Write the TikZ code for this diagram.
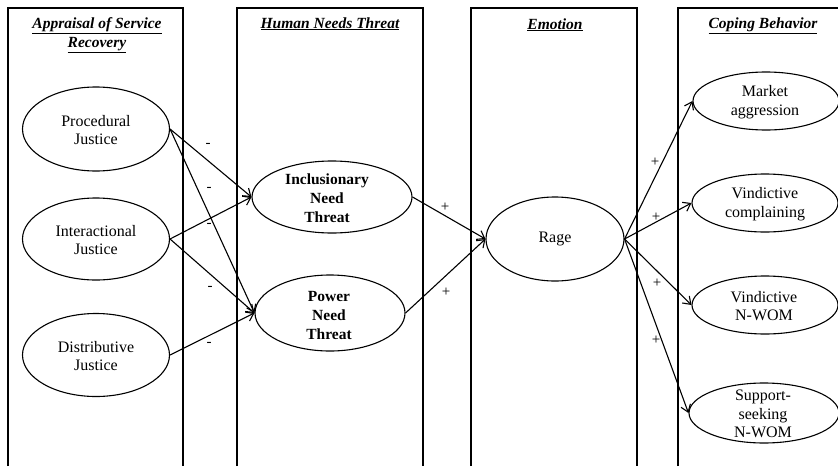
\documentclass[tikz,border=0pt]{standalone}
\usepackage{fontspec}
\setmainfont{Liberation Serif}
\usetikzlibrary{shapes.geometric,arrows.meta}
\begin{document}
\begin{tikzpicture}[x=1pt,y=-1pt,
 frame/.style={line width=1.1pt},
 ell/.style={draw,ellipse,line width=1.1pt,inner sep=0pt},
 txt/.style={align=center,font=\fontsize{16}{18.5}\selectfont,inner sep=0pt},
 btxt/.style={align=center,font=\bfseries\fontsize{15.5}{19}\selectfont,inner sep=0pt},
 title/.style={anchor=base,font=\bfseries\itshape\fontsize{15.5}{19}\selectfont,inner sep=0pt},
 arr/.style={line width=1.1pt,-{Straight Barb[length=7pt,width=10pt]}},
 sign/.style={font=\fontsize{15}{15}\selectfont,inner sep=0pt}]
\useasboundingbox (0,0) rectangle (838,466);
\fill[white] (0,0) rectangle (838,466);
% column frames
\draw[frame] (8,466) -- (8,8) -- (183,8) -- (183,466);
\draw[frame] (237,466) -- (237,8) -- (423,8) -- (423,466);
\draw[frame] (471,466) -- (471,8) -- (637,8) -- (637,466);
\draw[frame] (678,466) -- (678,8) -- (838,8);
% titles
\node[title] (t1a) at (97,28) {\underline{Appraisal of Service}};
\node[title] (t1b) at (97,47) {\underline{Recovery}};
\node[title] (t2) at (330,28) {\underline{Human Needs Threat}};
\node[title] (t3) at (555,29) {\underline{Emotion}};
\node[title] (t4) at (763,28) {\underline{Coping Behavior}};
% ellipses
\node[ell,minimum width=147pt,minimum height=84pt] (pj) at (96,129) {};
\node[ell,minimum width=147pt,minimum height=82pt] (ij) at (96,239) {};
\node[ell,minimum width=147pt,minimum height=83pt] (dj) at (96,355) {};
\node[ell,minimum width=160pt,minimum height=72pt] (inc) at (332,197) {};
\node[ell,minimum width=150pt,minimum height=76pt] (pow) at (330,313) {};
\node[ell,minimum width=138pt,minimum height=84pt] (rage) at (555,239) {};
\node[ell,minimum width=146pt,minimum height=58pt] (ma) at (766,101) {};
\node[ell,minimum width=146pt,minimum height=58pt] (vc) at (765,203) {};
\node[ell,minimum width=146pt,minimum height=58pt] (vn) at (765,305) {};
\node[ell,minimum width=150pt,minimum height=60pt] (ss) at (764,413) {};
% ellipse texts
\node[txt] (pjt) at (96,130) {Procedural\\Justice};
\node[txt] (ijt) at (96,240) {Interactional\\Justice};
\node[txt] (djt) at (96,356) {Distributive\\Justice};
\node[btxt] (inct) at (327,198) {Inclusionary\\Need\\Threat};
\node[btxt] (powt) at (329,315) {Power\\Need\\Threat};
\node[txt] (raget) at (555,239) {Rage};
\node[txt] (mat) at (765,102) {Market\\aggression};
\node[txt] (vct) at (765,204) {Vindictive\\complaining};
\node[txt] (vnt) at (764,306) {Vindictive\\N-WOM};
\node[txt] (sst) at (763,414) {Support-\\seeking\\N-WOM};
% connectors
\draw[arr] (pj.east) -- (inc.west);
\draw[arr] (pj.east) -- (pow.west);
\draw[arr] (ij.east) -- (inc.west);
\draw[arr] (ij.east) -- (pow.west);
\draw[arr] (dj.east) -- (pow.west);
\draw[arr] (inc.east) -- (rage.west);
\draw[arr] (pow.east) -- (rage.west);
\draw[arr] (rage.east) -- (ma.west);
\draw[arr] (rage.east) -- (vc.west);
\draw[arr] (rage.east) -- (vn.west);
\draw[arr] (rage.east) -- (ss.west);
% signs
\node[sign] (m1) at (208,145) {-};
\node[sign] (m2) at (209,189) {-};
\node[sign] (m3) at (209,225) {-};
\node[sign] (m4) at (210,288) {-};
\node[sign] (m5) at (209,344) {-};
\node[sign] (p1) at (445,207) {+};
\node[sign] (p2) at (446,292) {+};
\node[sign] (p3) at (655,162) {+};
\node[sign] (p4) at (656,217) {+};
\node[sign] (p5) at (657,283) {+};
\node[sign] (p6) at (656,340) {+};
\end{tikzpicture}
\end{document}
